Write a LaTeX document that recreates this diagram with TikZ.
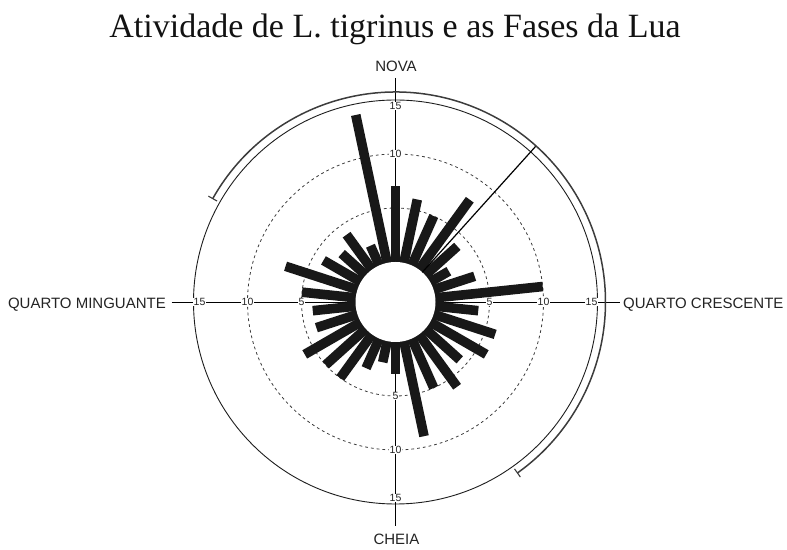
\documentclass[tikz,border=0pt]{standalone}
\usepackage{fontspec}
\setmainfont{Liberation Serif}
\newfontfamily\arialf{Liberation Sans}
\usetikzlibrary{calc}
\definecolor{barcol}{RGB}{24,24,24}
\definecolor{linecol}{RGB}{30,30,30}
\definecolor{dashcol}{RGB}{60,60,60}
\definecolor{txtcol}{RGB}{35,35,35}
\definecolor{arccol}{RGB}{60,60,60}
\begin{document}
\begin{tikzpicture}[x=1pt,y=1pt,
  bar/.style={fill=barcol},
  ring/.style={draw=linecol, line width=0.9pt},
  dashring/.style={draw=dashcol, line width=0.8pt, dash pattern=on 2.8pt off 3pt},
  axisline/.style={draw=black, line width=0.8pt},
  num/.style={font=\arialf\fontsize{10.5}{11}\selectfont, fill=white, inner sep=0.6pt, text=txtcol},
  phase/.style={font=\arialf\fontsize{15}{17}\selectfont, text=txtcol, inner sep=0pt},
  arcline/.style={draw=arccol, line width=1.5pt},
  meanline/.style={draw=black, line width=1.2pt}
]
\useasboundingbox (0,0) rectangle (787,549);
\coordinate (C) at (395.5,247);
% title
\node[font=\fontsize{34}{40}\selectfont, anchor=base, inner sep=0pt, text=black!93] (title) at (395,511) {Atividade de L. tigrinus e as Fases da Lua};
% rings
\draw[ring] (C) circle[radius=202];
\draw[dashring] (C) circle[radius=94];
\draw[dashring] (C) circle[radius=148];
% axes
\coordinate (axN) at ($(C)+(0,224)$);
\coordinate (axS) at ($(C)+(0,-224)$);
\coordinate (axW) at ($(C)+(-224,0)$);
\coordinate (axE) at ($(C)+(224,0)$);
\draw[axisline] (axN) -- (axS);
\draw[axisline] (axW) -- (axE);
% scale numbers
\foreach \r/\t in {94/5,148/10,196/15}{
  \node[num] (numN\t) at ($(C)+(0,\r)$) {\t};
  \node[num] (numS\t) at ($(C)+(0,-\r)$) {\t};
  \node[num] (numE\t) at ($(C)+(\r,0)$) {\t};
  \node[num] (numW\t) at ($(C)+(-\r,0)$) {\t};
}
% phase labels
\node[phase, anchor=base] (nova) at (396,477.5) {NOVA};
\node[phase, anchor=base] (cheia) at (396.5,4.7) {CHEIA};
\node[phase, anchor=base east] (qm) at (166,240.7) {QUARTO MINGUANTE};
\node[phase, anchor=base west] (qc) at (623,240.7) {QUARTO CRESCENTE};
% bars
\begin{scope}[shift={(C)}]
\foreach \b/\v in {0/7,12/6,24/5,36/8,48/4,60/2,72/4,84/10,96/4,108/6,120/6,132/4.3,144/6,156/5,168/9,180/3,192/2,204/3,216/5,228/5,240/6,252/4,264/4,276/5,288/7,300/4,312/3,324/4,336/2,348/14}{
  \fill[bar, rotate=-\b] (-4.8,0) -- (4.8,0) -- (4.8,{40+10.8*\v}) -- (-4.8,{40+10.8*\v}) -- cycle;
}
\end{scope}
% inner hole
\fill[white] (C) circle[radius=40];
% mean direction
\coordinate (m0) at ($(C)+(48:40)$);
\coordinate (m1) at ($(C)+(48:210)$);
\draw[meanline] (m0) -- (m1);
% spread arc
\coordinate (a0) at ($(C)+(150.5:210)$);
\draw[arcline] (a0) arc[start angle=150.5, end angle=-54.5, radius=210];
\coordinate (t0a) at ($(C)+(150.5:205)$);
\coordinate (t0b) at ($(C)+(150.5:215)$);
\coordinate (t1a) at ($(C)+(-54.5:205)$);
\coordinate (t1b) at ($(C)+(-54.5:215)$);
\draw[arcline, line width=1.1pt] (t0a) -- (t0b);
\draw[arcline, line width=1.1pt] (t1a) -- (t1b);
\end{tikzpicture}
\end{document}
